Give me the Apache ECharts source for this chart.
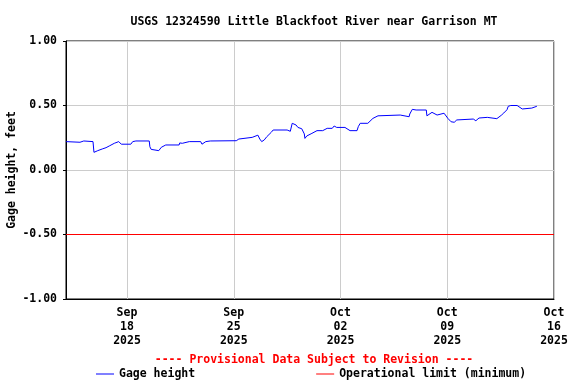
<!DOCTYPE html>
<html><head><meta charset="utf-8">
<script src="https://cdn.jsdelivr.net/npm/echarts@6/dist/echarts.min.js"></script>
<style>html,body{margin:0;padding:0;background:#fff}#c{width:576px;height:384px}</style>
</head><body><div id="c"></div>
<script>
const titleText = "USGS 12324590 Little Blackfoot River near Garrison MT";
const yAxisName = "Gage height, feet";
const provisionalText = "---- Provisional Data Subject to Revision ----";
const seriesNames = ["Gage height", "Operational limit (minimum)"];
const xMin = "2025-09-14 00:00";
const xMax = "2025-10-16 00:00";
const xTickDates = ["2025-09-18 00:00","2025-09-25 00:00","2025-10-02 00:00","2025-10-09 00:00","2025-10-16 00:00"];
const yMin = -1, yMax = 1, yInterval = 0.5;
const operationalLimit = -0.5;

const gageTimes = [
"2025-09-14 00:00","2025-09-14 22:00","2025-09-15 04:00","2025-09-15 18:30","2025-09-15 20:00","2025-09-15 23:00",
"2025-09-16 02:00","2025-09-16 09:00","2025-09-16 15:00","2025-09-16 20:00","2025-09-17 04:00","2025-09-17 11:00",
"2025-09-17 15:00","2025-09-18 06:00","2025-09-18 09:00","2025-09-18 14:00","2025-09-19 11:00","2025-09-19 12:00",
"2025-09-19 14:00","2025-09-19 17:00","2025-09-20 02:00","2025-09-20 06:00","2025-09-20 09:00","2025-09-20 13:00",
"2025-09-21 10:00","2025-09-21 11:00","2025-09-21 15:00","2025-09-22 02:00","2025-09-22 20:00","2025-09-22 22:00",
"2025-09-23 01:00","2025-09-23 04:00","2025-09-23 11:00","2025-09-25 04:00","2025-09-25 08:00","2025-09-25 11:00",
"2025-09-26 05:00","2025-09-26 08:00","2025-09-26 14:00","2025-09-26 17:00","2025-09-26 20:00","2025-09-27 00:00",
"2025-09-27 04:00","2025-09-27 11:00","2025-09-27 14:00","2025-09-28 12:00","2025-09-28 13:00","2025-09-28 17:00",
"2025-09-28 20:00","2025-09-29 02:00","2025-09-29 05:00","2025-09-29 11:00","2025-09-29 15:00","2025-09-29 16:00",
"2025-09-29 19:00","2025-09-30 03:00","2025-09-30 11:00","2025-09-30 20:00","2025-10-01 03:00","2025-10-01 11:00",
"2025-10-01 14:00","2025-10-01 18:00","2025-10-02 07:00","2025-10-02 10:00","2025-10-02 15:00","2025-10-03 02:00",
"2025-10-03 04:00","2025-10-03 07:00","2025-10-03 19:00","2025-10-03 22:00","2025-10-04 03:00","2025-10-04 11:00",
"2025-10-05 22:00","2025-10-06 01:00","2025-10-06 12:00","2025-10-06 13:00","2025-10-06 17:00","2025-10-06 20:00",
"2025-10-06 23:00","2025-10-07 15:00","2025-10-07 16:00","2025-10-07 19:00","2025-10-08 00:00","2025-10-08 03:00",
"2025-10-08 08:00","2025-10-08 11:00","2025-10-08 19:00","2025-10-08 22:00","2025-10-09 01:00","2025-10-09 06:00",
"2025-10-09 11:00","2025-10-09 15:00","2025-10-09 18:00","2025-10-10 17:00","2025-10-10 21:00","2025-10-11 02:00",
"2025-10-11 05:00","2025-10-11 15:00","2025-10-11 18:00","2025-10-12 06:00","2025-10-12 09:00","2025-10-12 13:00",
"2025-10-12 17:00","2025-10-12 22:00","2025-10-13 00:00","2025-10-13 04:00","2025-10-13 14:00","2025-10-13 17:00",
"2025-10-13 22:00","2025-10-14 01:00","2025-10-14 13:00","2025-10-14 16:00","2025-10-14 21:00"
];
const gageValues = [
0.22,0.215,0.225,0.22,0.137,0.147,
0.15,0.163,0.173,0.186,0.207,0.22,
0.20,0.20,0.22,0.225,0.225,0.18,
0.16,0.15,0.15,0.176,0.19,0.194,
0.194,0.21,0.207,0.22,0.22,0.20,
0.194,0.22,0.225,0.227,0.24,0.253,
0.253,0.264,0.27,0.24,0.22,0.233,
0.258,0.292,0.31,0.31,0.318,0.30,
0.362,0.349,0.33,0.32,0.28,0.245,
0.264,0.284,0.305,0.305,0.323,0.323,
0.341,0.33,0.33,0.315,0.305,0.305,
0.336,0.362,0.362,0.374,0.40,0.42,
0.426,0.413,0.413,0.434,0.47,0.478,
0.465,0.465,0.42,0.426,0.447,0.434,
0.426,0.44,0.44,0.426,0.40,0.374,
0.37,0.388,0.393,0.395,0.382,0.403,
0.408,0.408,0.398,0.398,0.408,0.424,
0.442,0.467,0.494,0.50,0.50,0.486,
0.473,0.48,0.48,0.494,0.494
];

const MON = ["Jan","Feb","Mar","Apr","May","Jun","Jul","Aug","Sep","Oct","Nov","Dec"];
const pad = n => (n < 10 ? "0" : "") + n;
const toMs = s => { const p = s.split(/[- :]/).map(Number); return new Date(p[0], p[1]-1, p[2], p[3], p[4]).getTime(); };
const FONT = "'DejaVu Sans Mono', 'Liberation Mono', monospace";
const tickMs = xTickDates.map(toMs);

const chart = echarts.init(document.getElementById('c'), null, {renderer: 'canvas'});
chart.setOption({
  animation: false,
  backgroundColor: '#fff',
  textStyle: {fontFamily: FONT},
  title: [{
    text: titleText, left: 309, top: 11, textAlign: 'center',
    textStyle: {fontFamily: FONT, fontSize: 11.5, fontWeight: 'bold', color: '#000'}
  }, {
    text: provisionalText, left: 309, top: 349, textAlign: 'center',
    textStyle: {fontFamily: FONT, fontSize: 11.5, fontWeight: 'bold', color: '#ff0000'}
  }],
  graphic: [{
    type: 'text', x: 12, y: 170, rotation: Math.PI / 2,
    style: {text: yAxisName, fill: '#000', font: "bold 11.5px " + FONT, align: 'center', verticalAlign: 'middle'}
  }],
  legend: {
    left: 91, top: 363, itemGap: 121, itemWidth: 18, itemHeight: 1, icon: 'rect',
    textStyle: {fontFamily: FONT, fontSize: 11.5, fontWeight: 'bold', color: '#000'},
    data: seriesNames
  },
  grid: {left: 66, right: 22, top: 41, bottom: 85, show: true, borderColor: '#000', borderWidth: 1,
    containLabel: false, outerBoundsMode: 'none'},
  xAxis: {
    type: 'value', min: toMs(xMin), max: toMs(xMax),
    axisLine: {show: true, onZero: false, lineStyle: {color: '#000'}},
    axisTick: {show: false, customValues: tickMs},
    splitLine: {show: true, lineStyle: {color: '#cccccc', width: 1}},
    axisLabel: {
      customValues: tickMs,
      margin: 7, lineHeight: 14, align: 'center',
      fontFamily: FONT, fontSize: 11.5, fontWeight: 'bold', color: '#000',
      formatter: v => { const d = new Date(v); return MON[d.getMonth()] + "\n" + pad(d.getDate()) + "\n" + d.getFullYear(); }
    }
  },
  yAxis: {
    type: 'value', min: yMin, max: yMax, interval: yInterval,
    axisLine: {show: true, onZero: false, lineStyle: {color: '#000'}},
    axisTick: {show: true, length: 3, lineStyle: {color: '#000'}},
    splitLine: {show: true, lineStyle: {color: '#cccccc', width: 1}},
    axisLabel: {margin: 9, fontFamily: FONT, fontSize: 11.5, fontWeight: 'bold', color: '#000',
      formatter: v => v.toFixed(2)}
  },
  series: [{
    name: seriesNames[0], type: 'line', symbol: 'none', showSymbol: false,
    lineStyle: {color: '#0000ff', width: 1}, itemStyle: {color: '#0000ff'},
    data: gageTimes.map((t, i) => [toMs(t), gageValues[i]]), z: 3
  }, {
    name: seriesNames[1], type: 'line', symbol: 'none', showSymbol: false,
    lineStyle: {color: '#ff0000', width: 1}, itemStyle: {color: '#ff0000'},
    data: [[toMs(xMin), operationalLimit], [toMs(xMax), operationalLimit]], z: 2
  }]
});
</script></body></html>
